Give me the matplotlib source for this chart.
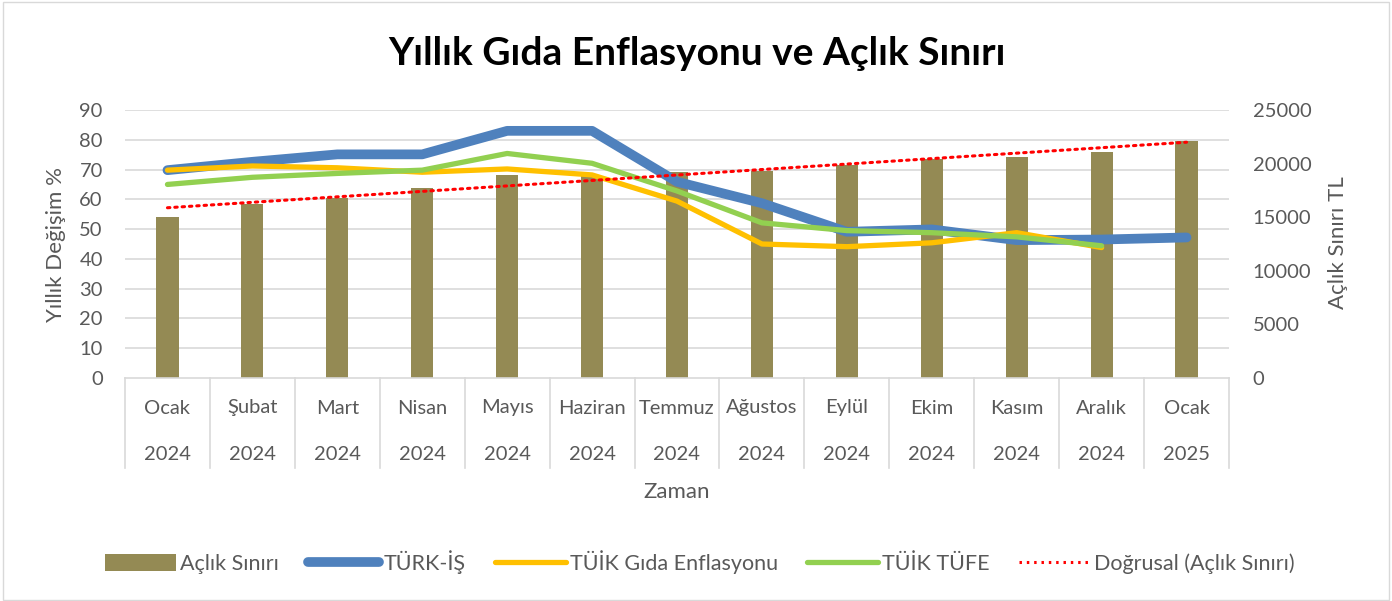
import numpy as np
import matplotlib
matplotlib.use("Agg")
import matplotlib.pyplot as plt
from matplotlib.lines import Line2D
from matplotlib.patches import Patch, Rectangle
import matplotlib.transforms as mtransforms

plt.rcParams['font.family'] = ['Lato', 'DejaVu Sans']

months = ["Ocak", "Şubat", "Mart", "Nisan", "Mayıs", "Haziran", "Temmuz",
          "Ağustos", "Eylül", "Ekim", "Kasım", "Aralık", "Ocak"]
years = ["2024"] * 12 + ["2025"]

aclik_siniri = [15050, 16230, 16790, 17690, 18940, 18800, 19250, 19310,
                19840, 20460, 20580, 21110, 22140]
turk_is = [69.8, 72.6, 75.1, 75.1, 83.0, 83.0, 65.9, 58.7, 49.1, 49.9, 46.3, 46.5, 47.2]
tuik_gida = [69.8, 71.2, 70.6, 69.1, 70.2, 68.2, 59.4, 45.0, 44.1, 45.4, 48.8, 43.8]
tuik_tufe = [65.0, 67.4, 68.7, 69.8, 75.4, 72.1, 62.8, 52.1, 49.5, 48.8, 47.4, 44.4]

W, H = 1392, 601
fig = plt.figure(figsize=(W / 100, H / 100), dpi=100)
fig.patches.append(Rectangle((2.5 / W, 1.5 / H), (W - 6) / W, (H - 3) / H,
                             transform=fig.transFigure, fill=False,
                             edgecolor='#d9d9d9', linewidth=1))

L, R, T, B = 125, 1229, 110, 378
axb = fig.add_axes([L / W, (H - B) / H, (R - L) / W, (B - T) / H])
x = np.arange(len(months))
grid_c = '#d9d9d9'
text_c = '#595959'
fs_tick = 14.5

# left axis with lines (created as twin, drawn above the bars)
axl = axb.twinx()
# trendline axis on top of everything
axt = axl.twinx()

# bars on right axis
axb.bar(x, aclik_siniri, width=0.26, color='#948A54', zorder=2)
axb.set_ylim(0, 25000)
axb.set_xlim(-0.5, len(months) - 0.5)
axb.yaxis.tick_right()
axb.set_yticks(np.arange(0, 25001, 5000))
axb.tick_params(axis='y', length=0, labelsize=fs_tick, labelcolor=text_c, pad=17,
                left=False, labelleft=False, right=True, labelright=True)

axl.yaxis.tick_left()
axl.set_ylim(0, 90)
axl.set_yticks(np.arange(0, 91, 10))
axl.tick_params(axis='y', length=0, labelsize=fs_tick, labelcolor=text_c, pad=16,
                right=False, labelright=False, left=True, labelleft=True)

# gridlines (behind bars) at left-axis tick positions
for v in np.arange(10, 91, 10):
    axb.axhline(v / 90 * 25000, color=grid_c, lw=1.2, zorder=0)

axl.plot(x, turk_is, color='#4F81BD', lw=7, solid_capstyle='round',
         solid_joinstyle='round', zorder=3)
axl.plot(x[:len(tuik_gida)], tuik_gida, color='#FFC000', lw=3.8,
         solid_capstyle='round', solid_joinstyle='round', zorder=4)
axl.plot(x[:len(tuik_tufe)], tuik_tufe, color='#92D050', lw=3.8,
         solid_capstyle='round', solid_joinstyle='round', zorder=5)

axt.set_ylim(0, 25000)
axt.axis('off')
coef = np.polyfit(x, aclik_siniri, 1)
axt.plot(x, np.polyval(coef, x), color='#FF0000', lw=2.2,
         linestyle=(0, (0.8, 1.6)), dash_capstyle='round')

for a in (axb, axl, axt):
    for s in a.spines.values():
        s.set_visible(False)
axb.spines['bottom'].set_visible(True)
axb.spines['bottom'].set_color(grid_c)
axb.spines['bottom'].set_linewidth(1.2)

# category axis labels (two levels)
axb.set_xticks([])
axl.set_xticks([])
trans = mtransforms.blended_transform_factory(axb.transData, axb.transAxes)
for i in range(len(months)):
    axb.text(i, -30 / (B - T), months[i], transform=trans, ha='center',
             va='center', fontsize=fs_tick, color=text_c)
    axb.text(i, -77 / (B - T), years[i], transform=trans, ha='center',
             va='center', fontsize=fs_tick, color=text_c)
for i in range(len(months) + 1):
    axb.add_line(Line2D([i - 0.5, i - 0.5], [0, -90 / (B - T)], transform=trans,
                        color=grid_c, lw=1.2, clip_on=False))

fig.text(677 / W, 1 - 492 / H, "Zaman", ha='center', va='center',
         fontsize=16, color=text_c)
fig.text(56 / W, 1 - 244 / H, "Yıllık Değişim %", ha='center', va='center',
         rotation=90, fontsize=16, color=text_c)
fig.text(1338 / W, 1 - 243 / H, "Açlık Sınırı TL", ha='center', va='center',
         rotation=90, fontsize=16, color=text_c)

fig.text(697 / W, 1 - 65 / H, "Yıllık Gıda Enflasyonu ve Açlık Sınırı",
         ha='center', va='baseline', fontsize=28, fontweight='bold', color='black')

handles = [Patch(facecolor='#948A54'),
           Line2D([], [], color='#4F81BD', lw=7, solid_capstyle='round'),
           Line2D([], [], color='#FFC000', lw=3.8, solid_capstyle='round'),
           Line2D([], [], color='#92D050', lw=3.8, solid_capstyle='round'),
           Line2D([], [], color='#FF0000', lw=2.2, linestyle=(0, (0.8, 1.6)))]
labels = ["Açlık Sınırı", "TÜRK-İŞ", "TÜİK Gıda Enflasyonu", "TÜİK TÜFE",
          "Doğrusal (Açlık Sınırı)"]
fig.legend(handles, labels, loc='center', bbox_to_anchor=(700 / W, 1 - 562 / H),
           ncol=5, frameon=False, fontsize=15.5, handlelength=3.3,
           handleheight=0.9, columnspacing=1.35, handletextpad=0.2,
           labelcolor=text_c)

fig.savefig("out.png", dpi=100)
